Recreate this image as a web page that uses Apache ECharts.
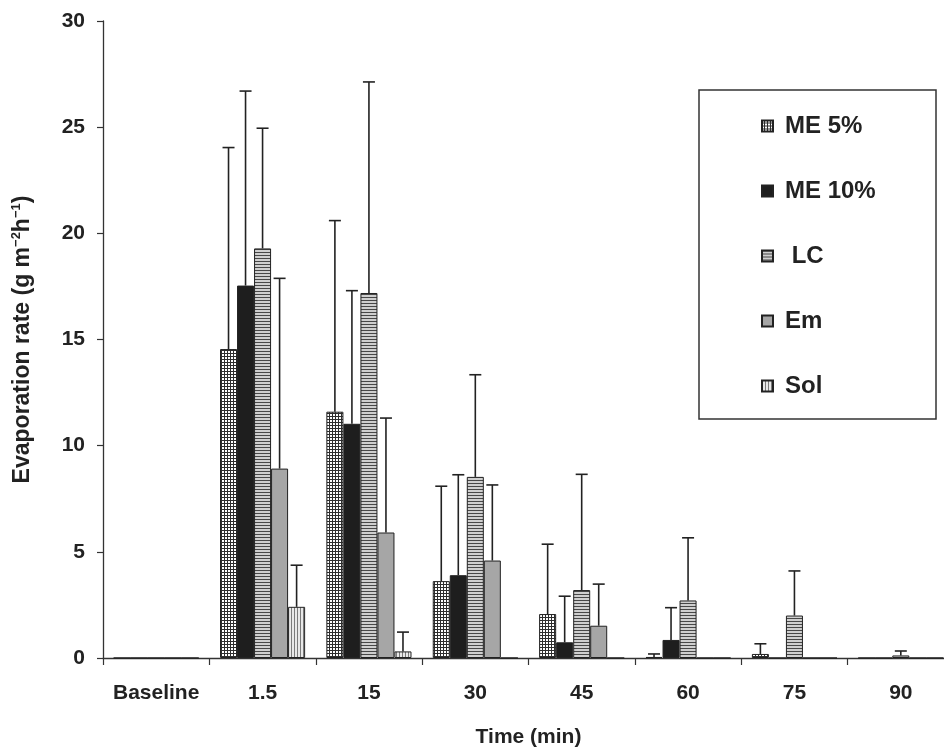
<!DOCTYPE html>
<html>
<head>
<meta charset="utf-8">
<script src="https://cdn.jsdelivr.net/npm/echarts@6/dist/echarts.min.js"></script>
<style>
html,body{margin:0;padding:0;background:#fff;}
#chart{width:944px;height:752px;}
</style>
</head>
<body>
<div id="chart"></div>
<script>
// ---- data ----
const categories = ['Baseline', '1.5', '15', '30', '45', '60', '75', '90'];
const seriesNames = ['ME 5%', 'ME 10%', ' LC', 'Em', 'Sol'];
const me5 = [0, 14.55, 11.6, 3.62, 2.07, 0.05, 0.19, 0];
const me5Err = [0, 9.49, 9.0, 4.47, 3.29, 0.14, 0.48, 0];
const me10 = [0, 17.54, 11.03, 3.9, 0.74, 0.85, 0, 0];
const me10Err = [0, 9.16, 6.27, 4.73, 2.17, 1.52, 0, 0];
const lc = [0, 19.29, 17.19, 8.53, 3.2, 2.71, 2.0, 0.12];
const lcErr = [0, 5.66, 9.94, 4.81, 5.45, 2.95, 2.1, 0.21];
const em = [0, 8.92, 5.91, 4.59, 1.52, 0, 0, 0];
const emErr = [0, 8.96, 5.39, 3.56, 1.96, 0, 0, 0];
const sol = [0, 2.41, 0.31, 0, 0, 0, 0, 0];
const solErr = [0, 1.96, 0.91, 0, 0, 0, 0, 0];
const yTicks = [0, 5, 10, 15, 20, 25, 30];

// ---- patterns ----
function pat(w, h, draw) {
  const c = document.createElement('canvas');
  c.width = w; c.height = h;
  draw(c.getContext('2d'));
  return { image: c, repeat: 'repeat' };
}
const gridPat = pat(3, 3, g => {
  g.fillStyle = '#ffffff'; g.fillRect(0, 0, 3, 3);
  g.fillStyle = '#2e2e2e'; g.fillRect(0, 2, 3, 1); g.fillRect(2, 0, 1, 3);
});
const hStripe = pat(3, 3, g => {
  g.fillStyle = '#cfcfcf'; g.fillRect(0, 0, 3, 3);
  g.fillStyle = '#484848'; g.fillRect(0, 0, 3, 1);
});
const vStripe = pat(3, 3, g => {
  g.fillStyle = '#e8e8e8'; g.fillRect(0, 0, 3, 3);
  g.fillStyle = '#7a7a7a'; g.fillRect(0, 0, 1, 3);
});

const means = [me5, me10, lc, em, sol];
const errs = [me5Err, me10Err, lcErr, emErr, solErr];
const fills = [gridPat, '#1e1e1e', hStripe, '#a6a6a6', vStripe];
const nSeries = means.length;

const font = '"Liberation Sans", Arial, sans-serif';

const barSeries = means.map((arr, k) => ({
  name: seriesNames[k],
  type: 'bar',
  data: arr,
  barGap: '0%',
  barCategoryGap: '20%',
  itemStyle: { color: fills[k], borderColor: '#222', borderWidth: 1 },
  emphasis: { disabled: true },
  z: 2
}));

const errSeries = means.map((arr, k) => ({
  type: 'custom',
  z: 3,
  silent: true,
  data: arr.map((m, i) => [i, m, errs[k][i]]),
  encode: { x: 0, y: 1 },
  renderItem: function (params, api) {
    const sd = api.value(2);
    if (!(sd > 0)) return null;
    const idx = api.value(0);
    const m = api.value(1);
    const band = api.size([1, 0])[0];
    const bw = band * 0.8 / nSeries;
    const cx = api.coord([idx, 0])[0] + (k - (nSeries - 1) / 2) * bw;
    const yb = api.coord([idx, m])[1];
    const yt = api.coord([idx, m + sd])[1];
    const st = { stroke: '#222', lineWidth: 1.6 };
    return {
      type: 'group',
      children: [
        { type: 'line', shape: { x1: cx, y1: yb, x2: cx, y2: yt }, style: st },
        { type: 'line', shape: { x1: cx - 6, y1: yt, x2: cx + 6, y2: yt }, style: st }
      ]
    };
  }
}));

const chart = echarts.init(document.getElementById('chart'), null, { renderer: 'canvas' });
chart.setOption({
  animation: false,
  backgroundColor: '#ffffff',
  grid: { left: 103, top: 21, width: 851, height: 637, containLabel: false, outerBoundsMode: 'none' },
  legend: {
    data: seriesNames,
    orient: 'vertical',
    left: 761,
    top: 113,
    padding: 0,
    itemWidth: 11,
    itemHeight: 11,
    itemGap: 39,
    selectedMode: false,
    icon: 'rect',
    textStyle: { fontFamily: font, fontWeight: 'bold', fontSize: 24, color: '#222', lineHeight: 26, padding: [0, 0, 0, 7] }
  },
  graphic: [{
    type: 'rect',
    shape: { x: 699, y: 90, width: 237, height: 329 },
    style: { fill: 'none', stroke: '#333', lineWidth: 1.5 },
    z: 0
  }],
  xAxis: {
    type: 'category',
    data: categories,
    name: 'Time (min)',
    nameLocation: 'middle',
    nameGap: 69,
    nameTextStyle: { fontFamily: font, fontWeight: 'bold', fontSize: 21, color: '#222' },
    axisLine: { lineStyle: { color: '#333', width: 1.3 } },
    axisTick: { show: true, length: 7, lineStyle: { color: '#333', width: 1.2 } },
    axisLabel: { fontFamily: font, fontWeight: 'bold', fontSize: 21, color: '#222', margin: 25, interval: 0 },
    splitLine: { show: false }
  },
  yAxis: {
    type: 'value',
    min: 0, max: 30, interval: 5,
    name: '{a|Evaporation rate (g m}{s|−2}{a|h}{s|−1}{a|)}',
    nameLocation: 'middle',
    nameGap: 68,
    nameRotate: 90,
    nameTextStyle: {
      rich: {
        a: { fontFamily: font, fontWeight: 'bold', fontSize: 23, color: '#222', lineHeight: 25 },
        s: { fontFamily: font, fontWeight: 'bold', fontSize: 13, color: '#222', verticalAlign: 'top', lineHeight: 25 }
      }
    },
    axisLine: { show: true, lineStyle: { color: '#333', width: 1.3 } },
    axisTick: { show: true, length: 6, lineStyle: { color: '#333', width: 1.2 } },
    axisLabel: {
      fontFamily: font, fontWeight: 'bold', fontSize: 21, color: '#222', margin: 18,
      formatter: v => (yTicks.indexOf(v) >= 0 ? String(v) : '')
    },
    splitLine: { show: false }
  },
  series: barSeries.concat(errSeries)
});
</script>
</body>
</html>
